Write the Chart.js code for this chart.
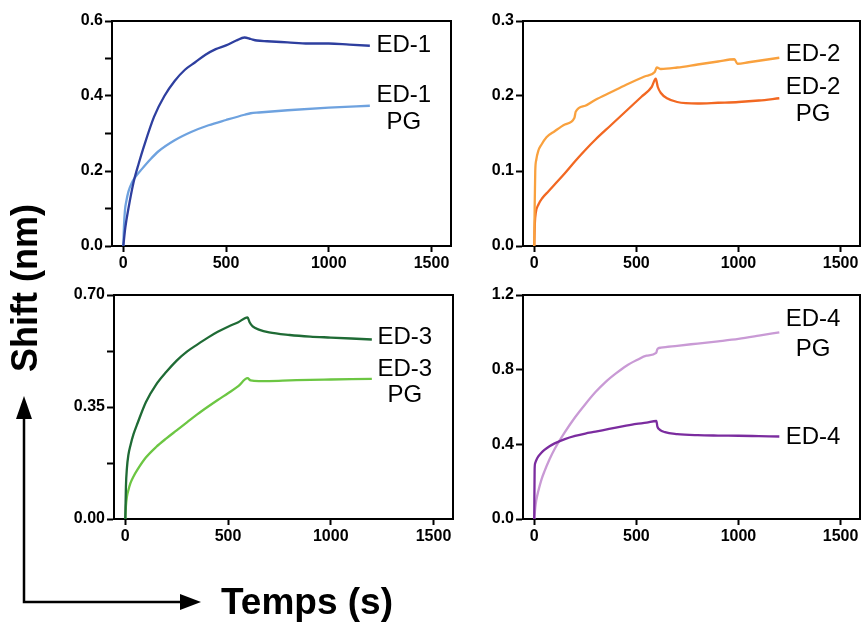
<!DOCTYPE html>
<html>
<head>
<meta charset="utf-8">
<script src="https://cdn.jsdelivr.net/npm/chart.js@4.4.1/dist/chart.umd.min.js"></script>
<style>
  html, body { margin: 0; padding: 0; background: #fff; }
  #wrap { position: relative; width: 862px; height: 622px; overflow: hidden; font-family: "Liberation Sans", Arial, sans-serif; }
  canvas { position: absolute; left: 0; top: 0; }
  .ttl { position: absolute; font-weight: bold; color: #000; white-space: nowrap; line-height: 1; }
  #ytitle { font-size: 36px; left: 25px; top: 288px; transform: translate(-50%, -50%) rotate(-90deg); }
  #xtitle { font-size: 37px; left: 307px; top: 601px; transform: translate(-50%, -50%); }
  svg { position: absolute; left: 0; top: 0; }
</style>
</head>
<body>
<div id="wrap">
  <canvas id="c1" width="862" height="622"></canvas>
  <canvas id="c2" width="862" height="622"></canvas>
  <canvas id="c3" width="862" height="622"></canvas>
  <canvas id="c4" width="862" height="622"></canvas>
  <svg width="862" height="622">
    <polyline points="24,418 24,602 186,602" fill="none" stroke="#000" stroke-width="2.5"/>
    <polygon points="24,396 16,419 32,419" fill="#000"/>
    <polygon points="201,602 180,594 180,610" fill="#000"/>
  </svg>
  <div class="ttl" id="ytitle">Shift (nm)</div>
  <div class="ttl" id="xtitle">Temps (s)</div>
</div>
<script>
// ---------------- DATA ----------------
const xTickValues = [0, 500, 1000, 1500];

// Panel 1
const tED1   = [0,10,25,50,75,100,150,200,250,300,350,400,450,500,550,590,620,650,700,800,900,1000,1100,1200];
const ED1    = [0,0.05,0.10,0.17,0.22,0.265,0.345,0.40,0.44,0.47,0.49,0.51,0.525,0.535,0.548,0.556,0.552,0.548,0.546,0.543,0.540,0.540,0.537,0.534];
const tED1PG = [0,3,8,15,25,40,60,90,130,170,250,330,415,500,590,620,660,800,1000,1200];
const ED1PG  = [0,0.05,0.095,0.12,0.145,0.167,0.185,0.205,0.23,0.252,0.282,0.304,0.322,0.336,0.350,0.354,0.356,0.362,0.369,0.374];
const yTicks1 = [0,0.1,0.2,0.3,0.4,0.5,0.6];
const yLabels1 = ['0.0','','0.2','','0.4','','0.6'];

// Panel 2
const tED2   = [0,2,5,10,20,35,60,100,150,197,203,250,300,375,450,540,590,600,620,700,800,900,980,995,1050,1100,1200];
const ED2    = [0,0.05,0.10,0.115,0.127,0.135,0.145,0.153,0.162,0.171,0.179,0.187,0.195,0.205,0.215,0.226,0.232,0.238,0.236,0.238,0.242,0.246,0.249,0.243,0.245,0.247,0.251];
const tED2PG = [0,3,8,20,40,70,100,150,200,250,300,375,450,525,575,595,605,620,650,700,800,900,1000,1100,1200];
const ED2PG  = [0,0.03,0.045,0.055,0.064,0.073,0.082,0.097,0.113,0.128,0.142,0.161,0.180,0.199,0.212,0.223,0.212,0.204,0.197,0.192,0.190,0.191,0.192,0.194,0.197];
const yTicks2 = [0,0.1,0.2,0.3];
const yLabels2 = ['0.0','0.1','0.2','0.3'];

// Panel 3
const tED3   = [0,3,8,15,25,40,60,100,150,200,250,300,350,400,450,500,550,595,605,620,650,700,800,900,1000,1100,1200];
const ED3    = [0,0.10,0.16,0.20,0.23,0.265,0.30,0.365,0.42,0.46,0.495,0.523,0.545,0.566,0.585,0.601,0.615,0.630,0.615,0.602,0.592,0.583,0.575,0.570,0.567,0.564,0.561];
const tED3PG = [0,3,8,15,25,40,60,100,150,200,250,300,350,400,450,500,550,595,610,650,700,800,900,1000,1100,1200];
const ED3PG  = [0,0.04,0.07,0.09,0.112,0.133,0.155,0.192,0.225,0.252,0.277,0.302,0.327,0.350,0.372,0.393,0.415,0.440,0.433,0.431,0.431,0.433,0.435,0.436,0.437,0.438];
const yTicks3 = [0,0.175,0.35,0.525,0.7];
const yLabels3 = ['0.00','','0.35','','0.70'];

// Panel 4
const tED4   = [0,2,5,10,20,35,50,75,100,150,200,250,300,350,400,450,500,550,598,603,615,640,700,800,900,1000,1100,1200];
const ED4    = [0,0.27,0.30,0.315,0.335,0.355,0.37,0.39,0.405,0.428,0.445,0.458,0.468,0.479,0.49,0.50,0.509,0.516,0.525,0.495,0.478,0.465,0.455,0.449,0.447,0.446,0.444,0.442];
const tED4PG = [0,5,10,20,35,50,75,100,150,200,250,300,350,400,450,500,550,597,603,620,700,800,900,1000,1100,1200];
const ED4PG  = [0,0.06,0.10,0.15,0.21,0.255,0.32,0.375,0.465,0.545,0.615,0.68,0.735,0.78,0.82,0.85,0.875,0.89,0.91,0.918,0.928,0.94,0.952,0.965,0.982,1.0];
const yTicks4 = [0,0.4,0.8,1.2];
const yLabels4 = ['0.0','0.4','0.8','1.2'];

// ---------------- DRAWING ----------------
const FONT = '"Liberation Sans", Arial, sans-serif';
const W = 862, H = 622, YW = 50, XH = 30;

function pts(t, v) { return t.map((x, i) => ({ x: x, y: v[i] })); }

const boxPlugin = {
  id: 'boxAndLabels',
  afterDraw(chart, args, opts) {
    const ctx = chart.ctx, a = chart.chartArea;
    ctx.save();
    ctx.strokeStyle = '#000';
    ctx.lineWidth = 2;
    ctx.beginPath();
    ctx.moveTo(a.left, a.top); ctx.lineTo(a.right, a.top); ctx.lineTo(a.right, a.bottom);
    ctx.stroke();
    ctx.fillStyle = '#000';
    ctx.font = '24px ' + FONT;
    ctx.textAlign = 'center';
    ctx.textBaseline = 'middle';
    (opts.labels || []).forEach(l => {
      ctx.fillText(l.text, chart.scales.x.getPixelForValue(l.x), chart.scales.y.getPixelForValue(l.y));
    });
    ctx.restore();
  }
};

function makePanel(id, box, yMax, yTicks, yLabels, series, labels) {
  const [L, R, T, B] = box;
  new Chart(document.getElementById(id), {
    type: 'line',
    data: {
      datasets: series.map(s => ({
        data: pts(s.t, s.v),
        borderColor: s.color,
        borderWidth: 2.3,
        pointRadius: 0,
        fill: false,
        cubicInterpolationMode: 'monotone'
      }))
    },
    options: {
      responsive: false,
      animation: false,
      devicePixelRatio: 1,
      layout: { padding: { left: L - YW, top: T, right: W - R, bottom: H - B - XH } },
      plugins: { legend: { display: false }, tooltip: { enabled: false }, boxAndLabels: { labels: labels } },
      scales: {
        x: {
          type: 'linear', min: -55, max: 1595,
          afterBuildTicks: s => { s.ticks = xTickValues.map(v => ({ value: v })); },
          afterFit: s => { s.height = XH; s.paddingLeft = 0; s.paddingRight = 0; },
          ticks: { color: '#000', font: { family: FONT, size: 16, weight: 'bold' }, padding: 2, maxRotation: 0, autoSkip: false,
                   callback: v => String(v) },
          grid: { display: true, drawOnChartArea: false, drawTicks: true, tickLength: 6, tickWidth: 2, tickColor: '#000' },
          border: { display: true, color: '#000', width: 2 }
        },
        y: {
          type: 'linear', min: 0, max: yMax,
          afterBuildTicks: s => { s.ticks = yTicks.map(v => ({ value: v })); },
          afterFit: s => { s.width = YW; s.paddingTop = 0; s.paddingBottom = 0; },
          ticks: { color: '#000', font: { family: FONT, size: 16, weight: 'bold' }, padding: 2, autoSkip: false,
                   callback: (v, i) => yLabels[i] },
          grid: { display: true, drawOnChartArea: false, drawTicks: true, tickLength: 7, tickWidth: 2, tickColor: '#000' },
          border: { display: true, color: '#000', width: 2 }
        }
      }
    },
    plugins: [boxPlugin]
  });
}

makePanel('c1', [112, 451, 21, 246], 0.6, yTicks1, yLabels1,
  [{ t: tED1, v: ED1, color: '#2e3f9f' }, { t: tED1PG, v: ED1PG, color: '#6ea2df' }],
  [{ text: 'ED-1', x: 1365, y: 0.536 }, { text: 'ED-1', x: 1365, y: 0.403 }, { text: 'PG', x: 1365, y: 0.331 }]);

makePanel('c2', [523, 860, 21, 246], 0.3, yTicks2, yLabels2,
  [{ t: tED2, v: ED2, color: '#f9a13e' }, { t: tED2PG, v: ED2PG, color: '#f26822' }],
  [{ text: 'ED-2', x: 1365, y: 0.256 }, { text: 'ED-2', x: 1365, y: 0.211 }, { text: 'PG', x: 1365, y: 0.176 }]);

makePanel('c3', [114, 453, 295, 519], 0.7, yTicks3, yLabels3,
  [{ t: tED3, v: ED3, color: '#1f6b35' }, { t: tED3PG, v: ED3PG, color: '#6cc643' }],
  [{ text: 'ED-3', x: 1360, y: 0.569 }, { text: 'ED-3', x: 1360, y: 0.467 }, { text: 'PG', x: 1360, y: 0.386 }]);

makePanel('c4', [523, 860, 295, 519], 1.2, yTicks4, yLabels4,
  [{ t: tED4, v: ED4, color: '#7b2c9f' }, { t: tED4PG, v: ED4PG, color: '#c99ad5' }],
  [{ text: 'ED-4', x: 1365, y: 1.072 }, { text: 'PG', x: 1365, y: 0.907 }, { text: 'ED-4', x: 1365, y: 0.437 }]);
</script>
</body>
</html>
